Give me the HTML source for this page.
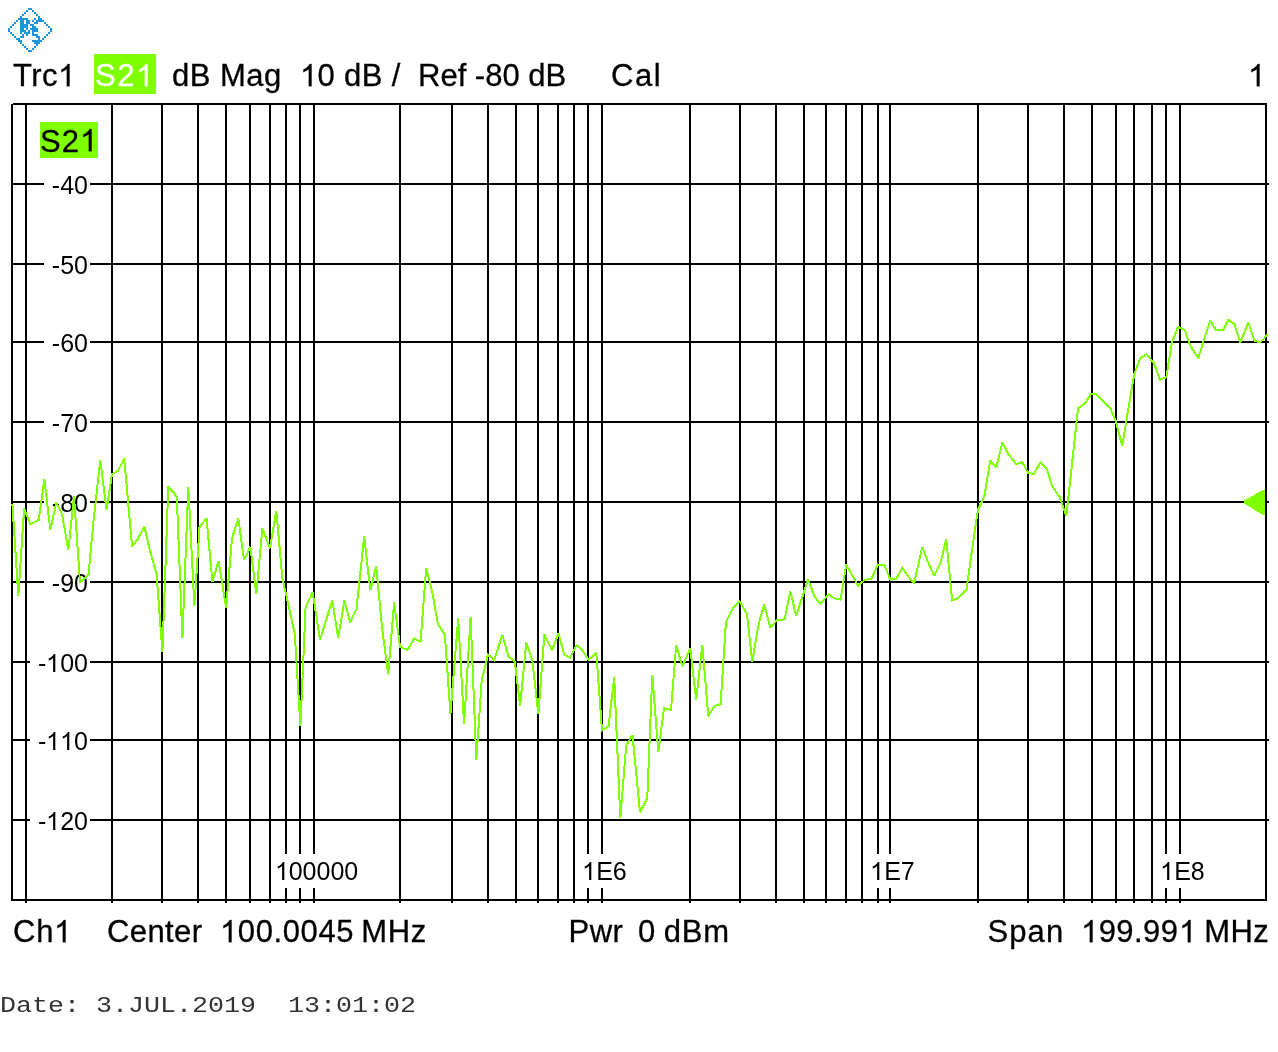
<!DOCTYPE html>
<html><head><meta charset="utf-8"><title>S21</title>
<style>
html,body{margin:0;padding:0;background:#fff;}
body{width:1278px;height:1052px;position:relative;overflow:hidden;font-family:"Liberation Sans",sans-serif;color:#000;}
svg.L{position:absolute;left:0;top:0;}
.t{position:absolute;white-space:nowrap;line-height:1;transform-origin:0 0;}
#txt{position:absolute;left:0;top:0;width:1278px;height:1052px;will-change:transform;-webkit-text-stroke:0.3px currentColor;}
.w{color:#fff;}
.g1{display:inline-block;width:0.5562em;height:0.71875em;vertical-align:baseline;fill:currentColor;stroke:currentColor;stroke-width:0.3px;vector-effect:non-scaling-stroke;shape-rendering:auto;overflow:visible;}
.m{font-family:"Liberation Mono",monospace;-webkit-text-stroke:0;color:#333;}
.yl{position:absolute;background:#fff;text-align:right;white-space:nowrap;box-sizing:content-box;-webkit-text-stroke:0;}
.yl .g1,.xl .g1{stroke-width:0;}
.xl{position:absolute;background:#fff;text-align:center;white-space:nowrap;-webkit-text-stroke:0;}
#hbox{position:absolute;left:94px;top:54px;width:62px;height:40px;background:#80ff00;}
#cbox{position:absolute;left:40px;top:122px;width:58px;height:36px;background:#80ff00;}
</style></head><body>
<svg class="L" width="1278" height="1052" viewBox="0 0 1278 1052" shape-rendering="crispEdges">
<g fill="#1e96dc"><rect x="8" y="28" width="2" height="2"/><rect x="8" y="30" width="2" height="2"/><rect x="10" y="26" width="2" height="2"/><rect x="10" y="32" width="2" height="2"/><rect x="12" y="24" width="2" height="2"/><rect x="12" y="34" width="2" height="2"/><rect x="14" y="22" width="2" height="2"/><rect x="14" y="36" width="2" height="2"/><rect x="16" y="20" width="2" height="2"/><rect x="16" y="38" width="2" height="2"/><rect x="18" y="18" width="2" height="2"/><rect x="18" y="38" width="2" height="2"/><rect x="18" y="40" width="2" height="2"/><rect x="20" y="16" width="2" height="2"/><rect x="20" y="18" width="2" height="2"/><rect x="20" y="20" width="2" height="2"/><rect x="20" y="22" width="2" height="2"/><rect x="20" y="24" width="2" height="2"/><rect x="20" y="26" width="2" height="2"/><rect x="20" y="28" width="2" height="2"/><rect x="20" y="30" width="2" height="2"/><rect x="20" y="32" width="2" height="2"/><rect x="20" y="36" width="2" height="2"/><rect x="20" y="40" width="2" height="2"/><rect x="20" y="42" width="2" height="2"/><rect x="22" y="14" width="2" height="2"/><rect x="22" y="18" width="2" height="2"/><rect x="22" y="20" width="2" height="2"/><rect x="22" y="22" width="2" height="2"/><rect x="22" y="24" width="2" height="2"/><rect x="22" y="26" width="2" height="2"/><rect x="22" y="28" width="2" height="2"/><rect x="22" y="30" width="2" height="2"/><rect x="22" y="34" width="2" height="2"/><rect x="22" y="36" width="2" height="2"/><rect x="22" y="44" width="2" height="2"/><rect x="24" y="12" width="2" height="2"/><rect x="24" y="18" width="2" height="2"/><rect x="24" y="24" width="2" height="2"/><rect x="24" y="26" width="2" height="2"/><rect x="24" y="30" width="2" height="2"/><rect x="24" y="32" width="2" height="2"/><rect x="24" y="46" width="2" height="2"/><rect x="26" y="10" width="2" height="2"/><rect x="26" y="18" width="2" height="2"/><rect x="26" y="20" width="2" height="2"/><rect x="26" y="22" width="2" height="2"/><rect x="26" y="24" width="2" height="2"/><rect x="26" y="26" width="2" height="2"/><rect x="26" y="28" width="2" height="2"/><rect x="26" y="32" width="2" height="2"/><rect x="26" y="34" width="2" height="2"/><rect x="26" y="48" width="2" height="2"/><rect x="28" y="8" width="2" height="2"/><rect x="28" y="20" width="2" height="2"/><rect x="28" y="22" width="2" height="2"/><rect x="28" y="30" width="2" height="2"/><rect x="28" y="32" width="2" height="2"/><rect x="28" y="50" width="2" height="2"/><rect x="30" y="8" width="2" height="2"/><rect x="30" y="24" width="2" height="2"/><rect x="30" y="28" width="2" height="2"/><rect x="30" y="50" width="2" height="2"/><rect x="32" y="10" width="2" height="2"/><rect x="32" y="20" width="2" height="2"/><rect x="32" y="24" width="2" height="2"/><rect x="32" y="26" width="2" height="2"/><rect x="32" y="28" width="2" height="2"/><rect x="32" y="30" width="2" height="2"/><rect x="32" y="32" width="2" height="2"/><rect x="32" y="34" width="2" height="2"/><rect x="32" y="40" width="2" height="2"/><rect x="32" y="48" width="2" height="2"/><rect x="34" y="12" width="2" height="2"/><rect x="34" y="18" width="2" height="2"/><rect x="34" y="22" width="2" height="2"/><rect x="34" y="26" width="2" height="2"/><rect x="34" y="28" width="2" height="2"/><rect x="34" y="30" width="2" height="2"/><rect x="34" y="34" width="2" height="2"/><rect x="34" y="40" width="2" height="2"/><rect x="34" y="42" width="2" height="2"/><rect x="34" y="46" width="2" height="2"/><rect x="36" y="14" width="2" height="2"/><rect x="36" y="20" width="2" height="2"/><rect x="36" y="22" width="2" height="2"/><rect x="36" y="28" width="2" height="2"/><rect x="36" y="30" width="2" height="2"/><rect x="36" y="34" width="2" height="2"/><rect x="36" y="36" width="2" height="2"/><rect x="36" y="40" width="2" height="2"/><rect x="36" y="42" width="2" height="2"/><rect x="36" y="44" width="2" height="2"/><rect x="38" y="16" width="2" height="2"/><rect x="38" y="18" width="2" height="2"/><rect x="38" y="20" width="2" height="2"/><rect x="38" y="36" width="2" height="2"/><rect x="38" y="38" width="2" height="2"/><rect x="38" y="40" width="2" height="2"/><rect x="38" y="42" width="2" height="2"/><rect x="40" y="18" width="2" height="2"/><rect x="40" y="20" width="2" height="2"/><rect x="40" y="40" width="2" height="2"/><rect x="42" y="20" width="2" height="2"/><rect x="42" y="38" width="2" height="2"/><rect x="44" y="22" width="2" height="2"/><rect x="44" y="36" width="2" height="2"/><rect x="46" y="24" width="2" height="2"/><rect x="46" y="34" width="2" height="2"/><rect x="48" y="26" width="2" height="2"/><rect x="48" y="32" width="2" height="2"/><rect x="50" y="28" width="2" height="2"/><rect x="50" y="30" width="2" height="2"/></g>
<g fill="#000"><rect x="25" y="103" width="2" height="800"/><rect x="111" y="103" width="2" height="800"/><rect x="161" y="103" width="2" height="800"/><rect x="197" y="103" width="2" height="800"/><rect x="225" y="103" width="2" height="800"/><rect x="249" y="103" width="2" height="800"/><rect x="269" y="103" width="2" height="800"/><rect x="285" y="103" width="2" height="800"/><rect x="299" y="103" width="2" height="800"/><rect x="313" y="103" width="2" height="800"/><rect x="399" y="103" width="2" height="800"/><rect x="451" y="103" width="2" height="800"/><rect x="487" y="103" width="2" height="800"/><rect x="515" y="103" width="2" height="800"/><rect x="537" y="103" width="2" height="800"/><rect x="557" y="103" width="2" height="800"/><rect x="573" y="103" width="2" height="800"/><rect x="587" y="103" width="2" height="800"/><rect x="601" y="103" width="2" height="800"/><rect x="689" y="103" width="2" height="800"/><rect x="739" y="103" width="2" height="800"/><rect x="775" y="103" width="2" height="800"/><rect x="803" y="103" width="2" height="800"/><rect x="825" y="103" width="2" height="800"/><rect x="845" y="103" width="2" height="800"/><rect x="861" y="103" width="2" height="800"/><rect x="877" y="103" width="2" height="800"/><rect x="889" y="103" width="2" height="800"/><rect x="977" y="103" width="2" height="800"/><rect x="1027" y="103" width="2" height="800"/><rect x="1063" y="103" width="2" height="800"/><rect x="1091" y="103" width="2" height="800"/><rect x="1115" y="103" width="2" height="800"/><rect x="1133" y="103" width="2" height="800"/><rect x="1151" y="103" width="2" height="800"/><rect x="1165" y="103" width="2" height="800"/><rect x="1179" y="103" width="2" height="800"/><rect x="11" y="104" width="2" height="797"/><rect x="1265" y="103" width="2" height="798"/><rect x="13" y="103" width="1254" height="2"/><rect x="11" y="899" width="1256" height="2"/><rect x="11" y="183" width="1258" height="2"/><rect x="11" y="263" width="1258" height="2"/><rect x="11" y="341" width="1258" height="2"/><rect x="11" y="421" width="1258" height="2"/><rect x="11" y="501" width="1258" height="2"/><rect x="11" y="581" width="1258" height="2"/><rect x="11" y="661" width="1258" height="2"/><rect x="11" y="739" width="1258" height="2"/><rect x="11" y="819" width="1258" height="2"/></g>
</svg>
<div id="hbox"></div><div id="cbox"></div>
<div id="txt">
<div class="yl" style="left:44px;top:171px;width:44px;height:28px;line-height:28px;font-size:25px;padding-right:2px">-40</div>
<div class="yl" style="left:44px;top:251px;width:44px;height:28px;line-height:28px;font-size:25px;padding-right:2px">-50</div>
<div class="yl" style="left:44px;top:329px;width:44px;height:28px;line-height:28px;font-size:25px;padding-right:2px">-60</div>
<div class="yl" style="left:44px;top:409px;width:44px;height:28px;line-height:28px;font-size:25px;padding-right:2px">-70</div>
<div class="yl" style="left:44px;top:489px;width:44px;height:28px;line-height:28px;font-size:25px;padding-right:2px">-80</div>
<div class="yl" style="left:44px;top:569px;width:44px;height:28px;line-height:28px;font-size:25px;padding-right:2px">-90</div>
<div class="yl" style="left:30px;top:649px;width:58px;height:28px;line-height:28px;font-size:25px;padding-right:2px">-<svg class="g1" viewBox="0 -1472 1139 1472"><path vector-effect="non-scaling-stroke" d="M763 0H583V-1147Q518-1085 412.5-1023Q307-961 223-930V-1104Q374-1175 487-1276Q600-1377 647-1472H763Z"/></svg>00</div>
<div class="yl" style="left:30px;top:727px;width:58px;height:28px;line-height:28px;font-size:25px;padding-right:2px">-<svg class="g1" viewBox="0 -1472 1139 1472"><path vector-effect="non-scaling-stroke" d="M763 0H583V-1147Q518-1085 412.5-1023Q307-961 223-930V-1104Q374-1175 487-1276Q600-1377 647-1472H763Z"/></svg><svg class="g1" viewBox="0 -1472 1139 1472"><path vector-effect="non-scaling-stroke" d="M763 0H583V-1147Q518-1085 412.5-1023Q307-961 223-930V-1104Q374-1175 487-1276Q600-1377 647-1472H763Z"/></svg>0</div>
<div class="yl" style="left:30px;top:807px;width:58px;height:28px;line-height:28px;font-size:25px;padding-right:2px">-<svg class="g1" viewBox="0 -1472 1139 1472"><path vector-effect="non-scaling-stroke" d="M763 0H583V-1147Q518-1085 412.5-1023Q307-961 223-930V-1104Q374-1175 487-1276Q600-1377 647-1472H763Z"/></svg>20</div>
<div class="xl" style="left:272.5px;top:854px;width:88px;height:34px;line-height:34px;font-size:25px"><svg class="g1" viewBox="0 -1472 1139 1472"><path vector-effect="non-scaling-stroke" d="M763 0H583V-1147Q518-1085 412.5-1023Q307-961 223-930V-1104Q374-1175 487-1276Q600-1377 647-1472H763Z"/></svg>00000</div>
<div class="xl" style="left:581.5px;top:854px;width:46px;height:34px;line-height:34px;font-size:25px"><svg class="g1" viewBox="0 -1472 1139 1472"><path vector-effect="non-scaling-stroke" d="M763 0H583V-1147Q518-1085 412.5-1023Q307-961 223-930V-1104Q374-1175 487-1276Q600-1377 647-1472H763Z"/></svg>E6</div>
<div class="xl" style="left:869.5px;top:854px;width:46px;height:34px;line-height:34px;font-size:25px"><svg class="g1" viewBox="0 -1472 1139 1472"><path vector-effect="non-scaling-stroke" d="M763 0H583V-1147Q518-1085 412.5-1023Q307-961 223-930V-1104Q374-1175 487-1276Q600-1377 647-1472H763Z"/></svg>E7</div>
<div class="xl" style="left:1159.5px;top:854px;width:46px;height:34px;line-height:34px;font-size:25px"><svg class="g1" viewBox="0 -1472 1139 1472"><path vector-effect="non-scaling-stroke" d="M763 0H583V-1147Q518-1085 412.5-1023Q307-961 223-930V-1104Q374-1175 487-1276Q600-1377 647-1472H763Z"/></svg>E8</div>
<div class="t " id="trc1" style="left:13px;top:60px;font-size:31px;letter-spacing:0.5px;">Trc<svg class="g1" style="margin-right:0.5px" viewBox="0 -1472 1139 1472"><path vector-effect="non-scaling-stroke" d="M763 0H583V-1147Q518-1085 412.5-1023Q307-961 223-930V-1104Q374-1175 487-1276Q600-1377 647-1472H763Z"/></svg></div>
<div class="t w" id="s21h" style="left:95px;top:60px;font-size:31px;letter-spacing:1.5px;">S2<svg class="g1" style="margin-right:1.5px" viewBox="0 -1472 1139 1472"><path vector-effect="non-scaling-stroke" d="M763 0H583V-1147Q518-1085 412.5-1023Q307-961 223-930V-1104Q374-1175 487-1276Q600-1377 647-1472H763Z"/></svg></div>
<div class="t " id="dbmag" style="left:172px;top:60px;font-size:31px;letter-spacing:0.5px;">dB Mag</div>
<div class="t " id="scale" style="left:299.8px;top:60px;font-size:31px;letter-spacing:0.4px;"><svg class="g1" style="margin-right:0.4px" viewBox="0 -1472 1139 1472"><path vector-effect="non-scaling-stroke" d="M763 0H583V-1147Q518-1085 412.5-1023Q307-961 223-930V-1104Q374-1175 487-1276Q600-1377 647-1472H763Z"/></svg>0 dB /</div>
<div class="t " id="ref" style="left:418px;top:60px;font-size:31px;">Ref -80 dB</div>
<div class="t " id="cal" style="left:611px;top:60px;font-size:31px;letter-spacing:1.6px;">Cal</div>
<div class="t " id="one" style="left:1248px;top:60px;font-size:31px;"><svg class="g1" viewBox="0 -1472 1139 1472"><path vector-effect="non-scaling-stroke" d="M763 0H583V-1147Q518-1085 412.5-1023Q307-961 223-930V-1104Q374-1175 487-1276Q600-1377 647-1472H763Z"/></svg></div>
<div class="t " id="ch1" style="left:13px;top:916px;font-size:31px;letter-spacing:0.8px;">Ch<svg class="g1" style="margin-right:0.8px" viewBox="0 -1472 1139 1472"><path vector-effect="non-scaling-stroke" d="M763 0H583V-1147Q518-1085 412.5-1023Q307-961 223-930V-1104Q374-1175 487-1276Q600-1377 647-1472H763Z"/></svg></div>
<div class="t " id="center" style="left:107px;top:916px;font-size:31px;letter-spacing:0.4px;">Center</div>
<div class="t " id="cfreq" style="left:220px;top:916px;font-size:31px;letter-spacing:0.6px;word-spacing:-2px;"><svg class="g1" style="margin-right:0.6px" viewBox="0 -1472 1139 1472"><path vector-effect="non-scaling-stroke" d="M763 0H583V-1147Q518-1085 412.5-1023Q307-961 223-930V-1104Q374-1175 487-1276Q600-1377 647-1472H763Z"/></svg>00.0045 MHz</div>
<div class="t " id="pwr" style="left:568.5px;top:916px;font-size:31px;letter-spacing:0.5px;">Pwr</div>
<div class="t " id="pval" style="left:638px;top:916px;font-size:31px;letter-spacing:0.7px;word-spacing:-1.4px;">0 dBm</div>
<div class="t " id="span" style="left:987.5px;top:916px;font-size:31px;letter-spacing:1.1px;">Span</div>
<div class="t " id="sval" style="left:1081px;top:916px;font-size:31px;letter-spacing:0.45px;word-spacing:-1px;"><svg class="g1" style="margin-right:0.45px" viewBox="0 -1472 1139 1472"><path vector-effect="non-scaling-stroke" d="M763 0H583V-1147Q518-1085 412.5-1023Q307-961 223-930V-1104Q374-1175 487-1276Q600-1377 647-1472H763Z"/></svg>99.99<svg class="g1" style="margin-right:0.45px" viewBox="0 -1472 1139 1472"><path vector-effect="non-scaling-stroke" d="M763 0H583V-1147Q518-1085 412.5-1023Q307-961 223-930V-1104Q374-1175 487-1276Q600-1377 647-1472H763Z"/></svg> MHz</div>
<div class="t m" id="date" style="left:0px;top:995.5px;font-size:22px;transform:scaleX(1.212);">Date: 3.JUL.2019&nbsp; 13:01:02</div>
<div class="t " id="s21c" style="left:40px;top:125.5px;font-size:31px;letter-spacing:1px;">S2<svg class="g1" style="margin-right:1px" viewBox="0 -1472 1139 1472"><path vector-effect="non-scaling-stroke" d="M763 0H583V-1147Q518-1085 412.5-1023Q307-961 223-930V-1104Q374-1175 487-1276Q600-1377 647-1472H763Z"/></svg></div>
</div>
<svg class="L" width="1278" height="1052" viewBox="0 0 1278 1052" shape-rendering="crispEdges">
<polygon points="1243.5,501 1243.5,503 1262.5,515 1265,515 1265,490 1262.5,490" fill="#80ff00"/>
<polyline points="12.4,504.3 18.3,595.8 24.2,508.5 30.3,524.3 38.7,520.0 44.4,479.0 50.3,530.0 56.3,502.6 62.0,514.0 68.3,550.0 74.0,496.5 80.0,582.5 88.5,574.7 93.5,521.0 100.3,460.6 106.6,510.0 112.0,474.0 118.0,470.8 124.2,458.5 132.1,546.5 137.4,539.5 144.4,526.8 150.0,550.8 156.5,573.4 162.4,652.0 168.3,486.6 176.8,496.8 182.4,637.9 188.3,486.6 194.4,606.0 199.6,526.3 206.6,518.6 212.4,582.0 218.6,560.8 226.1,608.0 232.0,538.3 238.3,518.6 244.1,560.1 250.3,546.8 256.3,594.0 262.4,528.5 270.0,548.2 276.3,510.8 282.4,578.5 287.9,602.3 294.8,634.4 300.4,725.9 305.6,606.8 312.7,592.3 320.0,640.0 325.5,622.0 332.3,600.4 338.2,638.2 344.4,600.4 350.1,622.3 356.5,608.9 364.2,536.3 370.3,590.3 376.2,566.6 382.0,627.2 388.2,674.4 394.1,602.5 400.1,646.9 407.5,650.0 414.2,638.4 420.5,641.9 426.2,568.3 432.1,591.3 437.9,624.1 444.9,634.9 450.4,714.1 458.2,618.5 464.1,724.2 470.6,616.6 476.3,760.1 481.7,680.6 488.0,654.5 494.1,660.1 502.4,634.8 508.5,656.6 514.8,661.5 520.1,705.9 526.3,642.5 532.4,660.8 538.3,714.4 544.4,634.5 552.1,650.3 558.5,633.0 564.0,654.0 570.0,658.2 576.5,645.0 582.8,650.7 588.6,659.9 596.3,652.8 602.0,730.2 608.6,726.2 614.2,676.8 620.3,818.2 626.2,745.6 632.5,735.0 640.0,812.3 647.3,797.7 652.3,674.6 658.3,752.0 664.0,708.4 671.0,709.9 676.2,644.8 682.3,666.2 690.3,648.6 696.2,700.3 702.3,644.8 708.3,716.2 714.5,705.9 720.6,704.2 725.9,622.5 733.5,607.2 739.8,601.4 746.9,613.8 752.3,661.7 758.2,625.8 764.2,604.6 770.4,627.9 777.2,619.9 784.6,619.4 790.3,590.8 796.2,615.9 802.1,597.7 808.2,579.0 814.2,596.2 820.6,603.9 828.6,594.1 834.2,598.3 840.6,599.7 846.2,564.5 852.3,575.4 858.2,586.1 864.9,579.6 871.3,579.3 877.9,564.5 884.6,565.5 890.3,579.6 896.2,578.6 902.5,567.8 908.6,577.0 914.1,583.4 922.3,546.8 927.5,561.0 934.2,575.9 940.6,563.0 946.2,539.0 952.1,600.3 957.7,598.5 966.5,589.7 971.3,555.0 977.9,510.0 984.4,496.2 990.3,460.4 996.2,467.9 1002.3,442.5 1008.3,454.1 1016.1,463.9 1022.4,462.3 1028.3,473.1 1033.9,474.0 1040.3,462.5 1046.6,468.2 1052.3,486.4 1059.7,497.0 1066.3,516.0 1071.6,468.0 1078.0,408.3 1084.6,403.8 1091.3,393.5 1095.9,393.5 1103.0,400.6 1110.4,408.2 1116.0,421.8 1122.2,446.0 1128.1,410.0 1134.3,374.0 1140.3,358.2 1146.6,354.0 1154.1,363.5 1160.0,379.9 1166.3,377.1 1171.9,342.3 1178.3,326.8 1185.0,330.6 1190.3,345.8 1198.3,358.2 1203.6,341.0 1210.3,320.5 1216.0,330.1 1223.1,330.1 1228.4,319.8 1234.3,324.0 1240.3,342.3 1248.3,322.6 1254.6,340.9 1260.3,342.3 1267.7,334.6" fill="none" stroke="#80ff00" stroke-width="2" stroke-linejoin="miter" stroke-miterlimit="2"/>
</svg>
</body></html>
